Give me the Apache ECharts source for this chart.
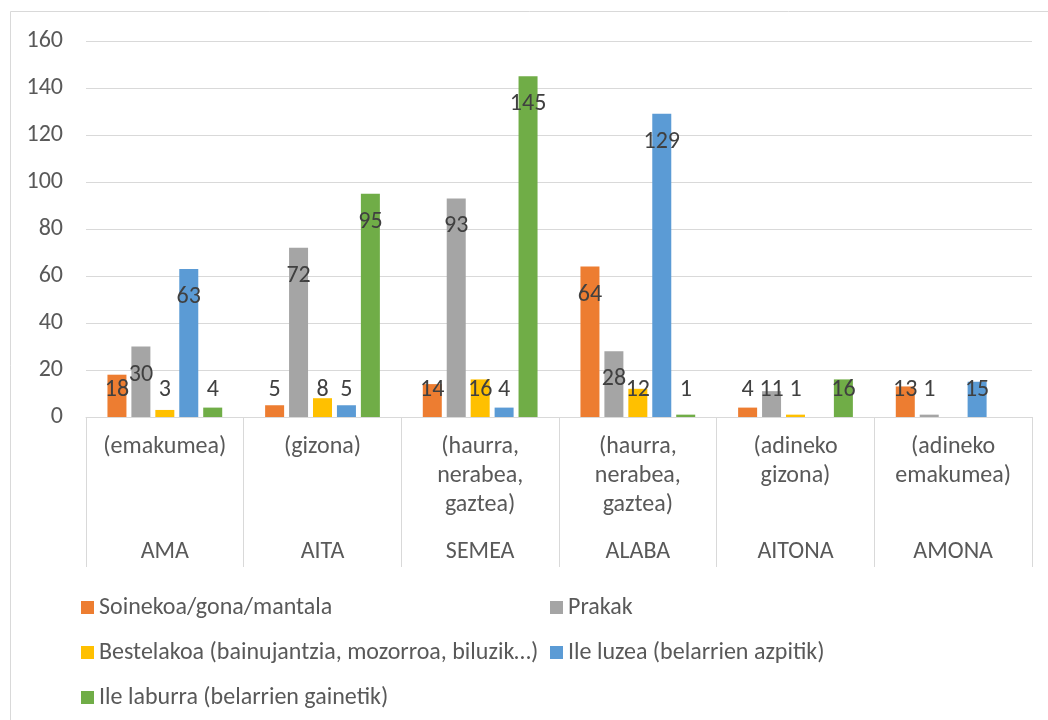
<!DOCTYPE html>
<html>
<head>
<meta charset="utf-8">
<script src="https://cdn.jsdelivr.net/npm/echarts@6/dist/echarts.min.js"></script>
<style>
html,body{margin:0;padding:0;background:#fff;}
#c{width:1048px;height:720px;}
</style>
</head>
<body>
<div id="c"></div>
<script>
const subLabels = ['(emakumea)', '(gizona)', '(haurra,\nnerabea,\ngaztea)', '(haurra,\nnerabea,\ngaztea)', '(adineko\ngizona)', '(adineko\nemakumea)'];
const mainLabels = ['AMA', 'AITA', 'SEMEA', 'ALABA', 'AITONA', 'AMONA'];
const seriesNames = ['Soinekoa/gona/mantala', 'Prakak', 'Bestelakoa (bainujantzia, mozorroa, biluzik…)', 'Ile luzea (belarrien azpitik)', 'Ile laburra (belarrien gainetik)'];
const soinekoa = [18, 5, 14, 64, 4, 13];
const prakak = [30, 72, 93, 28, 11, 1];
const bestelakoa = [3, 8, 16, 12, 1, null];
const ileLuzea = [63, 5, 4, 129, null, 15];
const ileLaburra = [4, 95, 145, 1, 16, null];
const yTicks = { min: 0, max: 160, interval: 20 };

const colors = ['#ED7D31', '#A5A5A5', '#FFC000', '#5B9BD5', '#70AD47'];
const allValues = [soinekoa, prakak, bestelakoa, ileLuzea, ileLaburra];
const FONT = 'Carlito, Lato, sans-serif';
const FS = 24;

const chart = echarts.init(document.getElementById('c'));

function buildSeries(labelFn) {
  return allValues.map((vals, i) => ({
    name: seriesNames[i],
    type: 'bar',
    xAxisIndex: 0,
    barWidth: 19,
    barGap: '26%',
    itemStyle: { color: colors[i] },
    label: {
      show: true,
      color: '#404040',
      fontSize: FS,
      fontFamily: FONT,
      position: 'insideTop',
      distance: 16
    },
    data: vals.map(v => v == null ? null : labelFn(v))
  }));
}

const legendText = { color: '#595959', fontSize: FS, fontFamily: FONT, lineHeight: 29 };

const baseOption = {
  animation: false,
  backgroundColor: '#fff',
  textStyle: { fontFamily: FONT },
  grid: { left: 86, right: 16, top: 41, bottom: 303 },
  legend: [
    {
      data: [seriesNames[0], seriesNames[2], seriesNames[4]],
      orient: 'vertical', left: 76, top: 588, itemGap: 16,
      icon: 'rect', itemWidth: 13, itemHeight: 13, itemTextGap: 4,
      textStyle: legendText
    },
    {
      data: [seriesNames[1], seriesNames[3]],
      orient: 'vertical', left: 545, top: 588, itemGap: 16,
      icon: 'rect', itemWidth: 13, itemHeight: 13, itemTextGap: 4,
      textStyle: legendText
    }
  ],
  xAxis: [
    {
      type: 'category',
      data: subLabels,
      axisLine: { lineStyle: { color: '#D9D9D9', width: 1 } },
      axisTick: { show: true, length: 150, interval: 0, lineStyle: { color: '#D9D9D9' } },
      axisLabel: { color: '#595959', fontSize: FS, lineHeight: 29, margin: 15, interval: 0, fontFamily: FONT }
    },
    {
      type: 'category',
      data: mainLabels,
      position: 'bottom',
      axisLine: { show: false },
      axisTick: { show: false },
      axisLabel: { color: '#595959', fontSize: FS, lineHeight: 29, margin: 120, interval: 0, fontFamily: FONT }
    }
  ],
  yAxis: {
    type: 'value',
    min: yTicks.min, max: yTicks.max, interval: yTicks.interval,
    axisLine: { show: false },
    axisTick: { show: false },
    splitLine: { lineStyle: { color: '#D9D9D9', width: 1 } },
    axisLabel: { color: '#595959', fontSize: FS, margin: 23, fontFamily: FONT }
  },
  graphic: [
    { type: 'line', shape: { x1: 10.5, y1: 11.5, x2: 1048, y2: 11.5 }, style: { stroke: '#D9D9D9', lineWidth: 1 } },
    { type: 'line', shape: { x1: 10.5, y1: 11.5, x2: 10.5, y2: 720 }, style: { stroke: '#D9D9D9', lineWidth: 1 } }
  ],
  series: buildSeries(v => ({ value: v }))
};

chart.setOption(baseOption);

// place labels: inside near top for tall bars, at a fixed height above the baseline for short ones
const basePx = chart.convertToPixel({ yAxisIndex: 0 }, 0);
chart.setOption({
  series: buildSeries(v => {
    const topPx = chart.convertToPixel({ yAxisIndex: 0 }, v);
    const h = basePx - topPx;
    if (h >= 55) {
      return { value: v, label: { position: 'insideTop', distance: 16 } };
    }
    return { value: v, label: { position: 'insideBottom', distance: 15 } };
  })
});
</script>
</body>
</html>
